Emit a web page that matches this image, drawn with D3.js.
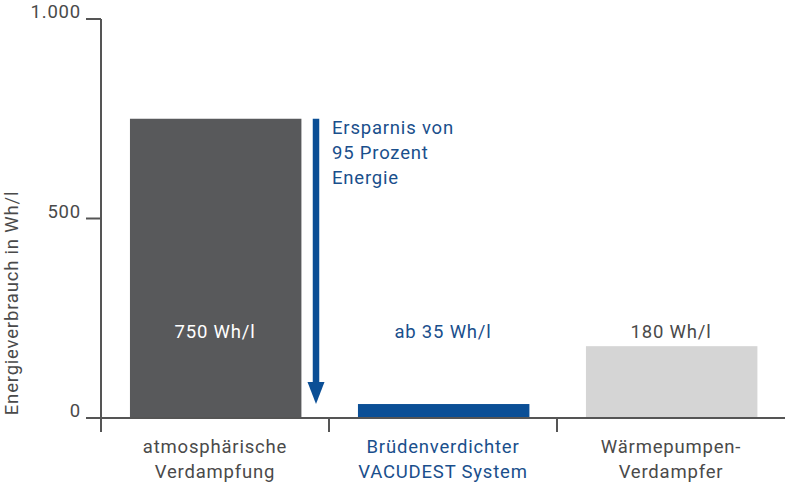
<!DOCTYPE html>
<html>
<head>
<meta charset="utf-8">
<script src="https://cdn.jsdelivr.net/npm/d3@7"></script>
<style>
  body { margin: 0; background: #fff; }
  text { font-family: Roboto, "DejaVu Sans", sans-serif; }
</style>
</head>
<body>
<div id="chart"></div>
<script>
var categories = ["atmosphärische\nVerdampfung", "Brüdenverdichter\nVACUDEST System", "Wärmepumpen-\nVerdampfer"];
var values     = [750, 35, 180];
var valueLabels = ["750 Wh/l", "ab 35 Wh/l", "180 Wh/l"];
var yTicks     = [0, 500, 1000];
var yTickLabels = ["0", "500", "1.000"];
var savingText = ["Ersparnis von", "95 Prozent", "Energie"];

var barColors   = ["#58595b", "#0b4f96", "#d5d5d5"];
var labelColors = ["#ffffff", "#1a4f8c", "#4a4a4a"];
var catColors   = ["#4a4a4a", "#1a4f8c", "#4a4a4a"];
var blue = "#0b4f96";
var axisColor = "#555555";
var fs = 18.5, ls = 0.8;

var svg = d3.select("#chart").append("svg")
  .attr("width", 790)
  .attr("height", 486);

var x = d3.scaleBand().domain(categories).range([101, 785]).padding(0);
var y = d3.scaleLinear().domain([0, 1000]).range([418, 19]);
var bw = x.bandwidth();

// bars
svg.selectAll("rect.bar")
  .data(values)
  .enter()
  .append("rect")
  .attr("class", "bar")
  .attr("x", function (d, i) { return x(categories[i]) + bw * 0.127; })
  .attr("y", function (d) { return y(d); })
  .attr("width", bw * 0.752)
  .attr("height", function (d) { return y(0) - y(d); })
  .attr("fill", function (d, i) { return barColors[i]; });

// value labels
svg.selectAll("text.val")
  .data(valueLabels)
  .enter()
  .append("text")
  .attr("class", "val")
  .attr("x", function (d, i) { return x(categories[i]) + bw / 2; })
  .attr("y", 338)
  .attr("text-anchor", "middle")
  .attr("font-size", fs)
  .attr("letter-spacing", ls)
  .attr("fill", function (d, i) { return labelColors[i]; })
  .text(function (d) { return d; });

// y axis
svg.append("line")
  .attr("x1", 101).attr("x2", 101)
  .attr("y1", y(1000)).attr("y2", y(0) + 14)
  .attr("stroke", axisColor).attr("stroke-width", 2);

var yt = svg.selectAll("g.ytick")
  .data(yTicks)
  .enter()
  .append("g")
  .attr("class", "ytick")
  .attr("transform", function (d) { return "translate(0," + y(d) + ")"; });
yt.append("line")
  .attr("x1", 86).attr("x2", 101)
  .attr("stroke", axisColor).attr("stroke-width", 2);
yt.append("text")
  .attr("x", 81)
  .attr("y", -1)
  .attr("text-anchor", "end")
  .attr("font-size", fs)
  .attr("letter-spacing", ls)
  .attr("fill", "#4a4a4a")
  .text(function (d, i) { return yTickLabels[i]; });

// x axis
svg.append("line")
  .attr("x1", 101).attr("x2", 785)
  .attr("y1", y(0)).attr("y2", y(0))
  .attr("stroke", axisColor).attr("stroke-width", 2);

svg.selectAll("line.xtick")
  .data(categories.slice(1))
  .enter()
  .append("line")
  .attr("class", "xtick")
  .attr("x1", function (d) { return x(d); })
  .attr("x2", function (d) { return x(d); })
  .attr("y1", y(0))
  .attr("y2", y(0) + 14)
  .attr("stroke", axisColor).attr("stroke-width", 2);

// category labels
var cl = svg.selectAll("text.cat")
  .data(categories)
  .enter()
  .append("text")
  .attr("class", "cat")
  .attr("text-anchor", "middle")
  .attr("font-size", fs)
  .attr("letter-spacing", ls)
  .attr("fill", function (d, i) { return catColors[i]; });
cl.selectAll("tspan")
  .data(function (d) { return d.split("\n").map(function (s) { return { s: s, c: d }; }); })
  .enter()
  .append("tspan")
  .attr("x", function (d) { return x(d.c) + bw / 2; })
  .attr("y", function (d, j) { return 453 + j * 25; })
  .text(function (d) { return d.s; });

// y axis title
svg.append("text")
  .attr("transform", "translate(18," + 303 + ") rotate(-90)")
  .attr("text-anchor", "middle")
  .attr("font-size", fs)
  .attr("letter-spacing", ls)
  .attr("fill", "#4a4a4a")
  .text("Energieverbrauch in Wh/l");

// savings arrow
var ax = 316;
var tipY = y(values[1]);
svg.append("line")
  .attr("x1", ax).attr("x2", ax)
  .attr("y1", y(values[0])).attr("y2", tipY - 20)
  .attr("stroke", blue).attr("stroke-width", 6.5);
svg.append("path")
  .attr("d", "M" + (ax - 8.5) + "," + (tipY - 22) +
             "L" + (ax + 8.5) + "," + (tipY - 22) +
             "L" + ax + "," + tipY + "Z")
  .attr("fill", blue);

svg.selectAll("text.save")
  .data(savingText)
  .enter()
  .append("text")
  .attr("class", "save")
  .attr("x", 332)
  .attr("y", function (d, i) { return 134 + i * 25; })
  .attr("font-size", fs)
  .attr("letter-spacing", ls)
  .attr("fill", "#1a4f8c")
  .text(function (d) { return d; });
</script>
</body>
</html>
